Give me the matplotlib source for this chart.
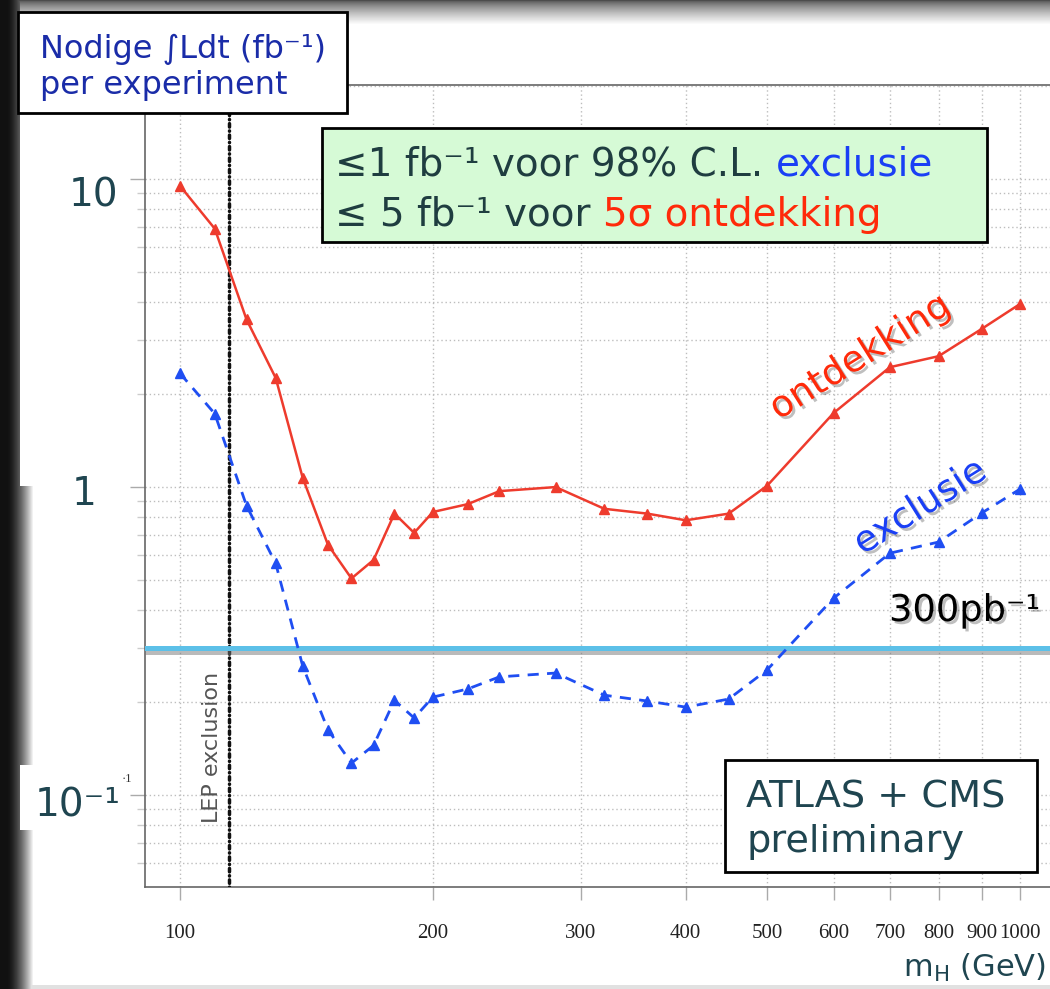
import numpy as np
import matplotlib
matplotlib.use("Agg")
import matplotlib.pyplot as plt
import matplotlib.patheffects as pe
from matplotlib.patches import Rectangle
from matplotlib.text import Annotation
from matplotlib.ticker import FixedLocator, LogLocator, NullFormatter, NullLocator

# Higgs mass (GeV) and integrated luminosity needed per experiment (fb^-1)
mass = [100, 110, 120, 130, 140, 150, 160, 170, 180, 190, 200, 220,
        240, 280, 320, 360, 400, 450, 500, 600, 700, 800, 900, 1000]
lumi_discovery = [9.5, 6.9, 3.5, 2.26, 1.07, 0.65, 0.505, 0.58, 0.82, 0.71, 0.83, 0.88,
                  0.97, 1.0, 0.85, 0.82, 0.78, 0.82, 1.01, 1.74, 2.45, 2.66, 3.26, 3.93]
lumi_exclusion = [2.34, 1.73, 0.87, 0.565, 0.262, 0.163, 0.127, 0.145, 0.203, 0.178, 0.208, 0.221,
                  0.242, 0.249, 0.211, 0.202, 0.193, 0.205, 0.255, 0.436, 0.61, 0.663, 0.823, 0.985]

x_ticks = [100, 200, 300, 400, 500, 600, 700, 800, 900, 1000]
x_ticklabels = ["100", "200", "300", "400", "500", "600", "700", "800", "900", "1000"]
y_values = [10, 1, 0.1]
y_labels = ["10", "1", "10⁻¹"]

lep_limit = 114.4      # GeV
early_lumi = 0.3       # 300 pb^-1

W, H = 1050, 989
TEAL = "#1f4550"


def fx(px):
    return px / W


def fy(py):
    return 1 - py / H


fig = plt.figure(figsize=(W / 100, H / 100), dpi=100)

# slide background with dark edges
bg = fig.add_axes([0, 0, 1, 1], zorder=-1)
bg.set_xlim(0, W)
bg.set_ylim(H, 0)
bg.axis("off")
img = np.ones((H, W))
xs = np.arange(W)
ys = np.arange(H)
left = 0.07 + 0.93 * np.clip((xs - 7) / 26.0, 0, 1) ** 1.6
img = np.minimum(img, left[None, :])
img[:486, 20:40] = 1.0
img[765:830, 20:112] = 1.0
top = 0.3 + 0.7 * np.clip(ys / 24.0, 0, 1) ** 0.7
img = np.minimum(img, top[:, None])
img[985:, :] = np.minimum(img[985:, :], 0.88)
bg.imshow(img, cmap="gray", vmin=0, vmax=1, extent=(0, W, H, 0),
          aspect="auto", interpolation="bilinear")

ax = fig.add_axes([fx(145), fy(887), fx(1050) - fx(145), fy(85) - fy(887)])
ax.set_xscale("log")
ax.set_yscale("log")
ax.set_xlim(90.85, 1085.7)
ax.set_ylim(0.0503, 20.2)

ax.xaxis.set_major_locator(FixedLocator(x_ticks))
ax.xaxis.set_minor_locator(NullLocator())
ax.set_xticklabels(x_ticklabels, fontfamily="Liberation Serif", fontsize=15, color="#222")
ax.yaxis.set_major_locator(LogLocator(base=10))
ax.yaxis.set_minor_locator(LogLocator(base=10, subs=np.arange(2, 10)))
ax.yaxis.set_major_formatter(NullFormatter())
ax.yaxis.set_minor_formatter(NullFormatter())

ax.tick_params(axis="x", which="major", direction="out", length=9.4, width=1, color="#aaa", pad=17)
ax.tick_params(axis="y", which="major", direction="out", length=10.8, width=1, color="#aaa")
ax.tick_params(axis="y", which="minor", direction="out", length=5.8, width=1, color="#ccc")

ax.grid(True, axis="x", which="major", ls=(0, (1, 2)), color="#bdbdbd", lw=1)
ax.grid(True, axis="y", which="both", ls=(0, (1, 2)), color="#bdbdbd", lw=1)
ax.spines["right"].set_visible(False)
for s in ["left", "bottom", "top"]:
    ax.spines[s].set_color("#666")
    ax.spines[s].set_linewidth(1.2)

ax.plot(mass, lumi_discovery, color="#ee3b2d", lw=1.8, marker="^", ms=7, zorder=4)
ax.plot(mass, lumi_exclusion, color="#1f4ef2", lw=2, ls=(0, (4, 3)), marker="^", ms=7, zorder=4)

# LEP lower limit: dot-dash line
ax.axvline(lep_limit, color="#111", lw=2.5, ls=(0, (0.1, 1.1, 1.0, 1.1)),
           dash_capstyle="round", zorder=3)
ax.text(109.2, 0.143, "LEP exclusion", rotation=90, ha="center", va="center",
        fontsize=16, color="#555")

ax.axhline(early_lumi, color="#5cc0e8", lw=3.6, zorder=3,
           path_effects=[pe.SimpleLineShadow(offset=(0, -2.5), shadow_color="#777", alpha=0.5),
                         pe.Normal()])

# large y labels
for v, lab, xr, dy in zip(y_values, y_labels, [118, 97, 121], [-27, -18, -21]):
    ax.annotate(lab, xy=(fx(xr), v), xycoords=("figure fraction", "data"),
                xytext=(0, dy * 0.72), textcoords="offset points",
                ha="right", va="baseline", fontsize=28, color=TEAL)
fig.text(fx(127), fy(779), "·1", fontfamily="Liberation Serif", fontsize=9,
         color="#333", ha="center", va="center")

shadow = [pe.withSimplePatchShadow(offset=(2, -2), shadow_rgbFace="k", alpha=0.25)]

fig.text(fx(1040), fy(621), "300pb⁻¹", ha="right", va="baseline", fontsize=26.5,
         color="k", path_effects=shadow)
fig.text(fx(860), fy(357), "ontdekking", rotation=32, rotation_mode="anchor",
         ha="center", va="center", fontsize=26.5, color="#ff2a0a", path_effects=shadow)
fig.text(fx(920), fy(507), "exclusie", rotation=32, rotation_mode="anchor",
         ha="center", va="center", fontsize=26.5, color="#1a3ff5", path_effects=shadow)


# boxes
def box(x0, y0, x1, y1, fc):
    fig.patches.append(Rectangle((fx(x0), fy(y1)), fx(x1) - fx(x0), fy(y0) - fy(y1),
                                 transform=fig.transFigure, facecolor=fc,
                                 edgecolor="k", lw=2, zorder=2))


box(18, 12, 347, 113, "white")
fig.text(fx(40), fy(58), "Nodige ∫Ldt (fb⁻¹)", ha="left", va="baseline",
         fontsize=23, color="#1a2ca8", zorder=4)
fig.text(fx(40), fy(94), "per experiment", ha="left", va="baseline",
         fontsize=23, color="#1a2ca8", zorder=4)

box(322, 128, 987, 242, "#d6fad6")
t1 = fig.text(fx(335), fy(176), "≤1 fb⁻¹ voor 98% C.L.", ha="left", va="baseline",
              fontsize=28, color="#1f3d40", zorder=4)
a1 = Annotation("exclusie", xy=(1, 0), xycoords=t1, xytext=(8.9, 0),
                textcoords="offset points", ha="left", va="bottom",
                fontsize=28, color="#1a3ff5", zorder=4)
fig.add_artist(a1)
t2 = fig.text(fx(335), fy(226), "≤ 5 fb⁻¹ voor", ha="left", va="baseline",
              fontsize=28, color="#1f3d40", zorder=4)
a2 = Annotation("5σ ontdekking", xy=(1, 0), xycoords=t2, xytext=(8.9, 0),
                textcoords="offset points", ha="left", va="bottom",
                fontsize=28, color="#ff2a0a", zorder=4)
fig.add_artist(a2)

box(725, 760, 1037, 872, "white")
fig.text(fx(746), fy(808), "ATLAS + CMS", ha="left", va="baseline",
         fontsize=27.5, color=TEAL, zorder=4)
fig.text(fx(746), fy(852), "preliminary", ha="left", va="baseline",
         fontsize=27.5, color=TEAL, zorder=4)

fig.text(fx(1046), fy(968), r"m$_\mathregular{H}$ (GeV)", ha="right", va="center",
         fontsize=22, color=TEAL)

fig.savefig("out.png", dpi=100)
